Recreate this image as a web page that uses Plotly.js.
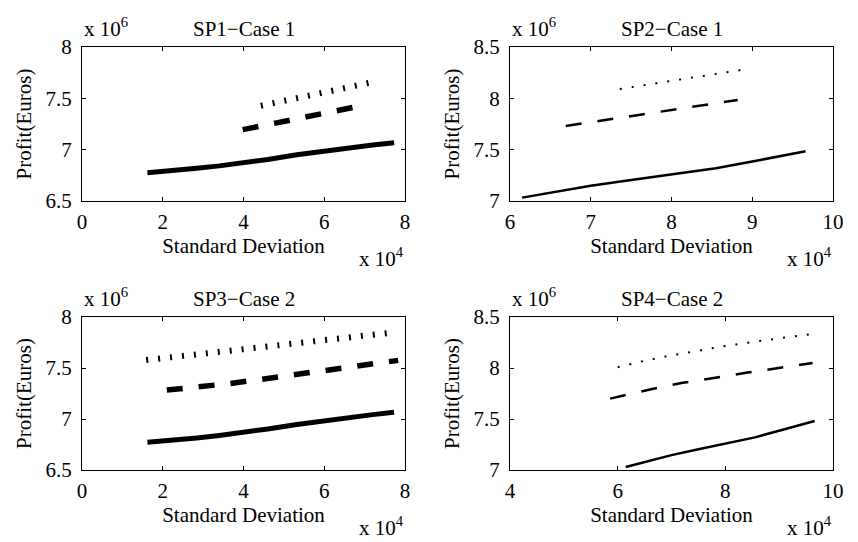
<!DOCTYPE html>
<html>
<head>
<meta charset="utf-8">
<script src="https://cdn.plot.ly/plotly-3.0.1.min.js"></script>
<style>html,body{margin:0;padding:0;background:#fff;}#chart{width:858px;height:542px;}</style>
</head>
<body>
<div id="chart"></div>
<script>
// Standard deviation in units of 1e4, profit in units of 1e6 (Euros)
// SP1 - Case 1
const sp1SolidX = [1.62, 2.3, 2.84, 3.4, 3.91, 4.6, 5.32, 6.0, 6.56, 7.2, 7.73];
const sp1SolidY = [6.776, 6.795, 6.818, 6.842, 6.866, 6.905, 6.95, 6.988, 7.018, 7.045, 7.068];
const sp1DashX  = [3.98, 4.5, 5.05, 5.6, 6.2, 6.76];
const sp1DashY  = [7.195, 7.237, 7.28, 7.325, 7.37, 7.415];
const sp1DotX   = [4.43, 5.0, 5.55, 6.1, 6.65, 7.13];
const sp1DotY   = [7.428, 7.475, 7.52, 7.565, 7.61, 7.652];
// SP2 - Case 1
const sp2SolidX = [6.15, 6.6, 7.0, 7.5, 8.0, 8.55, 9.1, 9.66];
const sp2SolidY = [7.033, 7.095, 7.148, 7.205, 7.26, 7.32, 7.40, 7.485];
const sp2DashX  = [6.69, 7.1, 7.55, 8.0, 8.4, 8.82];
const sp2DashY  = [7.731, 7.78, 7.833, 7.887, 7.934, 7.984];
const sp2DotX   = [7.36, 7.65, 7.95, 8.25, 8.55, 8.86];
const sp2DotY   = [8.091, 8.127, 8.163, 8.2, 8.238, 8.276];
// SP3 - Case 2
const sp3SolidX = [1.62, 2.3, 2.84, 3.4, 3.91, 4.6, 5.32, 6.0, 6.56, 7.2, 7.73];
const sp3SolidY = [6.771, 6.79, 6.814, 6.839, 6.863, 6.902, 6.947, 6.985, 7.016, 7.043, 7.066];
const sp3DashX  = [2.1, 2.6, 3.0, 3.6, 4.2, 4.6, 5.2, 5.81, 6.21, 6.8, 7.44, 7.83];
const sp3DashY  = [7.284, 7.300, 7.316, 7.345, 7.376, 7.398, 7.43, 7.464, 7.485, 7.515, 7.548, 7.575];
const sp3DotX   = [1.59, 2.5, 3.5, 4.5, 5.5, 6.5, 7.65];
const sp3DotY   = [7.578, 7.62, 7.664, 7.706, 7.75, 7.795, 7.846];
// SP4 - Case 2
const sp4SolidX = [6.15, 6.6, 7.0, 7.5, 8.0, 8.55, 9.1, 9.66];
const sp4SolidY = [7.03, 7.093, 7.146, 7.203, 7.258, 7.32, 7.40, 7.48];
const sp4DashX  = [5.86, 6.31, 6.6, 6.92, 7.21, 7.51, 7.81, 8.12, 8.41, 8.72, 9.01, 9.32, 9.62];
const sp4DashY  = [7.70, 7.757, 7.79, 7.825, 7.855, 7.878, 7.905, 7.93, 7.955, 7.978, 8.0, 8.022, 8.05];
const sp4DotX   = [6.0, 6.45, 6.91, 7.47, 8.03, 8.5, 8.92, 9.3, 9.6];
const sp4DotY   = [8.007, 8.065, 8.115, 8.17, 8.219, 8.255, 8.284, 8.31, 8.333];

const titles = ['SP1\u2212Case 1', 'SP2\u2212Case 1', 'SP3\u2212Case 2', 'SP4\u2212Case 2'];
const xRanges = [[0, 8], [6, 10], [0, 8], [4, 10]];
const xDticks = [2, 1, 2, 2];
const yRanges = [[6.5, 8], [7, 8.5], [6.5, 8], [7, 8.5]];
const xLabel = 'Standard Deviation';
const yLabel = 'Profit(Euros)';
const xExp = 'x 10<sup>4</sup>';
const yExp = 'x 10<sup>6</sup>';

const W = 858, H = 542;
const FONT = 'Liberation Serif, Times New Roman, serif';
const FS = 21;

function line(x, y, xa, ya, width, dash) {
  return {x: x, y: y, xaxis: xa, yaxis: ya, type: 'scatter', mode: 'lines',
          line: {color: '#000', width: width, dash: dash}, hoverinfo: 'skip', showlegend: false};
}
const THICK_DASH = '16px,16px', DOT = '2px,10px';
const data = [
  line(sp1SolidX, sp1SolidY, 'x', 'y', 5, 'solid'),
  line(sp1DashX, sp1DashY, 'x', 'y', 5.5, THICK_DASH),
  line(sp1DotX, sp1DotY, 'x', 'y', 6, DOT),
  line(sp2SolidX, sp2SolidY, 'x2', 'y2', 2.5, 'solid'),
  line(sp2DashX, sp2DashY, 'x2', 'y2', 2.5, THICK_DASH),
  line(sp2DotX, sp2DotY, 'x2', 'y2', 2, DOT),
  line(sp3SolidX, sp3SolidY, 'x3', 'y3', 5, 'solid'),
  line(sp3DashX, sp3DashY, 'x3', 'y3', 5.5, THICK_DASH),
  line(sp3DotX, sp3DotY, 'x3', 'y3', 6, DOT),
  line(sp4SolidX, sp4SolidY, 'x4', 'y4', 2.5, 'solid'),
  line(sp4DashX, sp4DashY, 'x4', 'y4', 2.5, THICK_DASH),
  line(sp4DotX, sp4DotY, 'x4', 'y4', 2, DOT)
];

// plot boxes in pixels [left, right, top, bottom]
const boxes = [[82, 405, 47, 201], [510, 833, 47, 201], [82, 405, 317, 470], [510, 833, 317, 470]];

const layout = {
  width: W, height: H,
  margin: {l: 0, r: 0, t: 0, b: 0},
  paper_bgcolor: '#fff', plot_bgcolor: '#fff',
  font: {family: FONT, size: FS, color: '#000'},
  showlegend: false,
  annotations: []
};

boxes.forEach(function (b, i) {
  const sx = i === 0 ? '' : String(i + 1);
  const axCommon = {
    showline: true, mirror: 'ticks', linecolor: '#000', linewidth: 1,
    ticks: 'inside', ticklen: 4, tickcolor: '#000', tickwidth: 1,
    showgrid: false, zeroline: false, fixedrange: true,
    tickfont: {family: FONT, size: FS, color: '#000'}
  };
  layout['xaxis' + sx] = Object.assign({}, axCommon, {
    domain: [b[0] / W, b[1] / W], anchor: 'y' + sx,
    range: xRanges[i], dtick: xDticks[i], tick0: 0,
    ticklabelstandoff: 2,
    title: {text: xLabel, font: {family: FONT, size: FS}, standoff: 5}
  });
  layout['yaxis' + sx] = Object.assign({}, axCommon, {
    domain: [1 - b[3] / H, 1 - b[2] / H], anchor: 'x' + sx,
    range: yRanges[i], dtick: 0.5, tick0: 0,
    ticklabelstandoff: 5,
    title: {text: yLabel, font: {family: FONT, size: FS}, standoff: 8}
  });
  layout.annotations.push({
    text: titles[i], xref: 'paper', yref: 'paper', showarrow: false,
    x: (b[0] + b[1]) / 2 / W, y: 1 - (b[2] - 4) / H,
    xanchor: 'center', yanchor: 'bottom', font: {family: FONT, size: FS}
  });
  layout.annotations.push({
    text: yExp, xref: 'paper', yref: 'paper', showarrow: false,
    x: b[0] / W, y: 1 - (b[2] - 4) / H,
    xanchor: 'left', yanchor: 'bottom', font: {family: FONT, size: FS}
  });
  layout.annotations.push({
    text: xExp, xref: 'paper', yref: 'paper', showarrow: false,
    x: (b[1] + 1) / W, y: 1 - (b[3] + 72) / H,
    xanchor: 'right', yanchor: 'bottom', font: {family: FONT, size: FS}
  });
});

Plotly.newPlot('chart', data, layout, {displayModeBar: false, staticPlot: true});
</script>
</body>
</html>
